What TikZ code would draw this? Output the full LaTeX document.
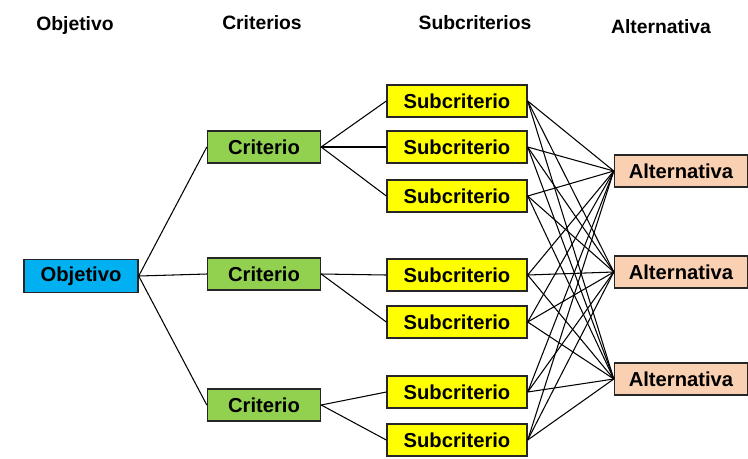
\documentclass[tikz,border=0pt]{standalone}
\usepackage{fontspec}
\setmainfont{Liberation Sans}
\definecolor{azul}{RGB}{0,176,240}
\definecolor{verde}{RGB}{146,208,80}
\definecolor{amarillo}{RGB}{255,255,0}
\definecolor{salmon}{RGB}{250,208,178}

\begin{document}
\begin{tikzpicture}[x=0.02cm,y=-0.02cm,line width=0.6pt,
  caja/.style={draw=black!85,line width=0.8pt,minimum height=0.64cm,inner sep=0pt,
    font=\bfseries\fontsize{11.5}{13}\selectfont},
  obj/.style={caja,fill=azul,minimum width=2.28cm,minimum height=0.66cm},
  crit/.style={caja,fill=verde,minimum width=2.26cm},
  sub/.style={caja,fill=amarillo,minimum width=2.8cm},
  alt/.style={caja,fill=salmon,minimum width=2.66cm},
  titulo/.style={font=\bfseries\fontsize{11}{13}\selectfont}]
  \useasboundingbox (0,0) rectangle (748,458);
  \node[titulo] (tobj) at (75,25) {Objetivo};
  \node[titulo] (tcrit) at (262,23) {Criterios};
  \node[titulo] (tsub) at (475,23) {Subcriterios};
  \node[titulo] (talt) at (661,27) {Alternativa};
  \node[obj] (obj) at (81,276) {Objetivo};
  \foreach \n/\y in {1/147,2/274,3/405}
    \node[crit] (c\n) at (264,\y) {Criterio};
  \foreach \n/\y in {1/101,2/147,3/196,4/275,5/322,6/392,7/440}
    \node[sub] (s\n) at (457,\y) {Subcriterio};
  \foreach \n/\y in {1/171,2/272,3/379}
    \node[alt] (a\n) at (681,\y) {Alternativa};
  \foreach \n in {1,2,3}
    \draw (obj.east) -- (c\n.west);
  \foreach \c/\s in {1/1,1/2,1/3,2/4,2/5,3/6,3/7}
    \draw (c\c.east) -- (s\s.west);
  \foreach \s in {1,...,7}
    \foreach \a in {1,2,3}
      \draw (s\s.east) -- (a\a.west);
\end{tikzpicture}
\end{document}
